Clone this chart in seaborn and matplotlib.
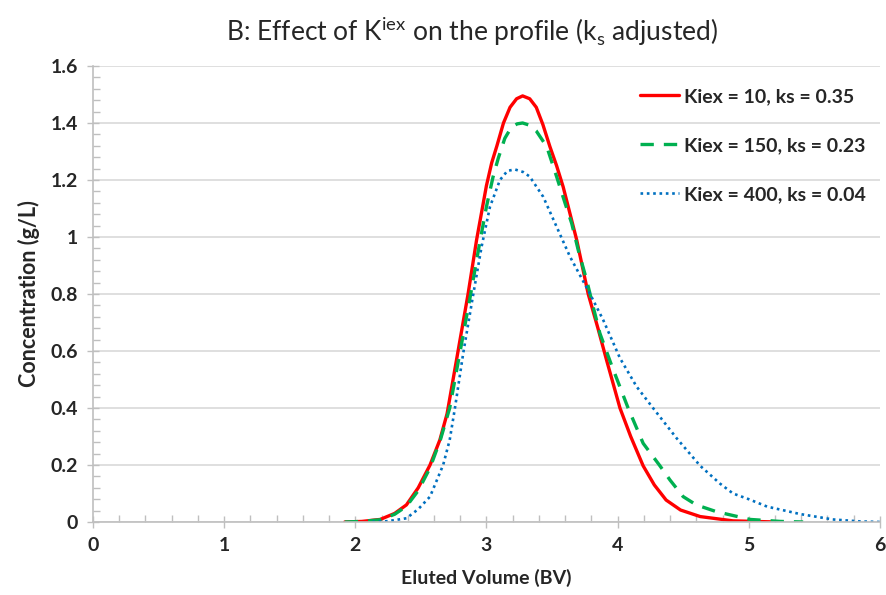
import numpy as np
import pandas as pd
import matplotlib
matplotlib.use("Agg")
import matplotlib.pyplot as plt
import seaborn as sns
from matplotlib.ticker import MultipleLocator, FuncFormatter

# ---- data ----
labels = ["Kiex = 10, ks = 0.35", "Kiex = 150, ks = 0.23", "Kiex = 400, ks = 0.04"]

x_red = [1.92, 2.05, 2.19, 2.30, 2.39, 2.48, 2.57, 2.645, 2.70, 2.78, 2.86, 2.925, 3.00, 3.04, 3.08,
         3.13, 3.18, 3.23, 3.276, 3.33, 3.38, 3.43, 3.484, 3.535, 3.585, 3.688, 3.776, 3.85,
         3.916, 4.018, 4.10, 4.195, 4.28, 4.37, 4.48, 4.63, 4.88, 5.21]
y_red = [0.0, 0.002, 0.009, 0.03, 0.06, 0.12, 0.20, 0.288, 0.38, 0.59, 0.80, 0.99, 1.18, 1.26, 1.32,
         1.40, 1.455, 1.485, 1.495, 1.485, 1.455, 1.395, 1.317, 1.25, 1.176, 0.99, 0.80, 0.68,
         0.568, 0.40, 0.30, 0.197, 0.13, 0.077, 0.042, 0.019, 0.004, 0.0]

x_green = [1.92, 2.05, 2.19, 2.30, 2.39, 2.48, 2.57, 2.65, 2.72, 2.80, 2.88, 2.945, 3.00, 3.05,
           3.09, 3.14, 3.19, 3.235, 3.276, 3.33, 3.38, 3.46, 3.535, 3.60, 3.65, 3.70, 3.764,
           3.814, 3.865, 3.954, 4.08, 4.195, 4.323, 4.40, 4.50, 4.60, 4.755, 5.01, 5.24, 5.415]
y_green = [0.0, 0.002, 0.008, 0.027, 0.055, 0.11, 0.19, 0.29, 0.40, 0.60, 0.80, 0.97, 1.106, 1.21,
           1.276, 1.346, 1.385, 1.397, 1.40, 1.392, 1.372, 1.317, 1.212, 1.118, 1.048, 0.954, 0.849,
           0.755, 0.662, 0.55, 0.40, 0.276, 0.197, 0.147, 0.089, 0.06, 0.036, 0.009, 0.002, 0.0]

x_blue = [2.13, 2.25, 2.39, 2.48, 2.57, 2.67, 2.72, 2.76, 2.823, 2.90, 2.963, 3.027, 3.103, 3.16,
          3.217, 3.28, 3.33, 3.433, 3.535, 3.637, 3.79, 3.89, 4.018, 4.145, 4.27, 4.45, 4.63,
          4.78, 4.88, 5.00, 5.14, 5.39, 5.64, 5.85, 6.0]
y_blue = [0.0, 0.003, 0.013, 0.045, 0.089, 0.20, 0.288, 0.40, 0.592, 0.80, 0.966, 1.106, 1.20, 1.232,
          1.237, 1.228, 1.212, 1.141, 1.036, 0.931, 0.80, 0.709, 0.575, 0.475, 0.40, 0.294, 0.197,
          0.135, 0.10, 0.08, 0.054, 0.028, 0.009, 0.002, 0.0]

title = "B: Effect of K$^{\\mathregular{iex}}$ on the profile (k$_{\\mathregular{s}}$ adjusted)"
xlabel = "Eluted Volume (BV)"
ylabel = "Concentration (g/L)"

# ---- styling ----
sns.set_theme(style="white")
plt.rcParams['font.family'] = ['Lato', 'DejaVu Sans']
plt.rcParams['mathtext.fontset'] = 'custom'
plt.rcParams['mathtext.rm'] = 'Lato'

fig = plt.figure(figsize=(8.87, 5.95), dpi=100)
ax = fig.add_axes([0.1048, 0.1227, 0.8872, 0.7664])

series = [
    (x_red, y_red, labels[0], "#ff0000", "-", 2.4),
    (x_green, y_green, labels[1], "#00b050", (0, (4, 3)), 2.4),
    (x_blue, y_blue, labels[2], "#0070c0", (0, (1, 1.4)), 1.9),
]
for xs, ys, lab, col, ls, lw in series:
    sns.lineplot(x=xs, y=ys, ax=ax, color=col, linestyle=ls, linewidth=lw,
                 label=lab, sort=False, estimator=None)

ax.set_xlim(0, 6)
ax.set_ylim(0, 1.6)
ax.xaxis.set_major_locator(MultipleLocator(1))
ax.xaxis.set_minor_locator(MultipleLocator(0.2))
ax.yaxis.set_major_locator(MultipleLocator(0.2))
ax.yaxis.set_minor_locator(MultipleLocator(0.04))
ax.yaxis.set_major_formatter(FuncFormatter(lambda v, p: f"{v:g}"))
ax.xaxis.set_major_formatter(FuncFormatter(lambda v, p: f"{v:g}"))

ax.grid(axis="y", which="major", color="#d9d9d9", linewidth=1.2)
ax.grid(axis="x", visible=False)
ax.set_axisbelow(True)
for s in ["top", "right"]:
    ax.spines[s].set_visible(False)
for s in ["left", "bottom"]:
    ax.spines[s].set_color("#bfbfbf")
    ax.spines[s].set_linewidth(1.2)

ax.tick_params(axis="both", which="major", direction="inout", length=9, width=1,
               color="#bfbfbf", labelsize=14, pad=6)
ax.tick_params(axis="both", which="minor", direction="in", length=5, width=1,
               color="#bfbfbf")
ax.tick_params(axis="x", which="both", bottom=True)
ax.tick_params(axis="y", which="both", left=True)
for t in ax.get_xticklabels() + ax.get_yticklabels():
    t.set_fontweight("bold")

ax.set_xlabel(xlabel, fontsize=14, fontweight="bold", labelpad=11)
ax.set_ylabel(ylabel, fontsize=15.5, fontweight="bold", labelpad=8)
fig.suptitle(title, fontsize=19, x=0.532, y=0.975)

leg = ax.legend(loc="upper right", bbox_to_anchor=(1.005, 0.99), frameon=False,
                prop={"weight": "bold", "size": 14}, handlelength=2.0,
                handletextpad=0.3, labelspacing=1.65)

fig.savefig("out.png", dpi=100)
